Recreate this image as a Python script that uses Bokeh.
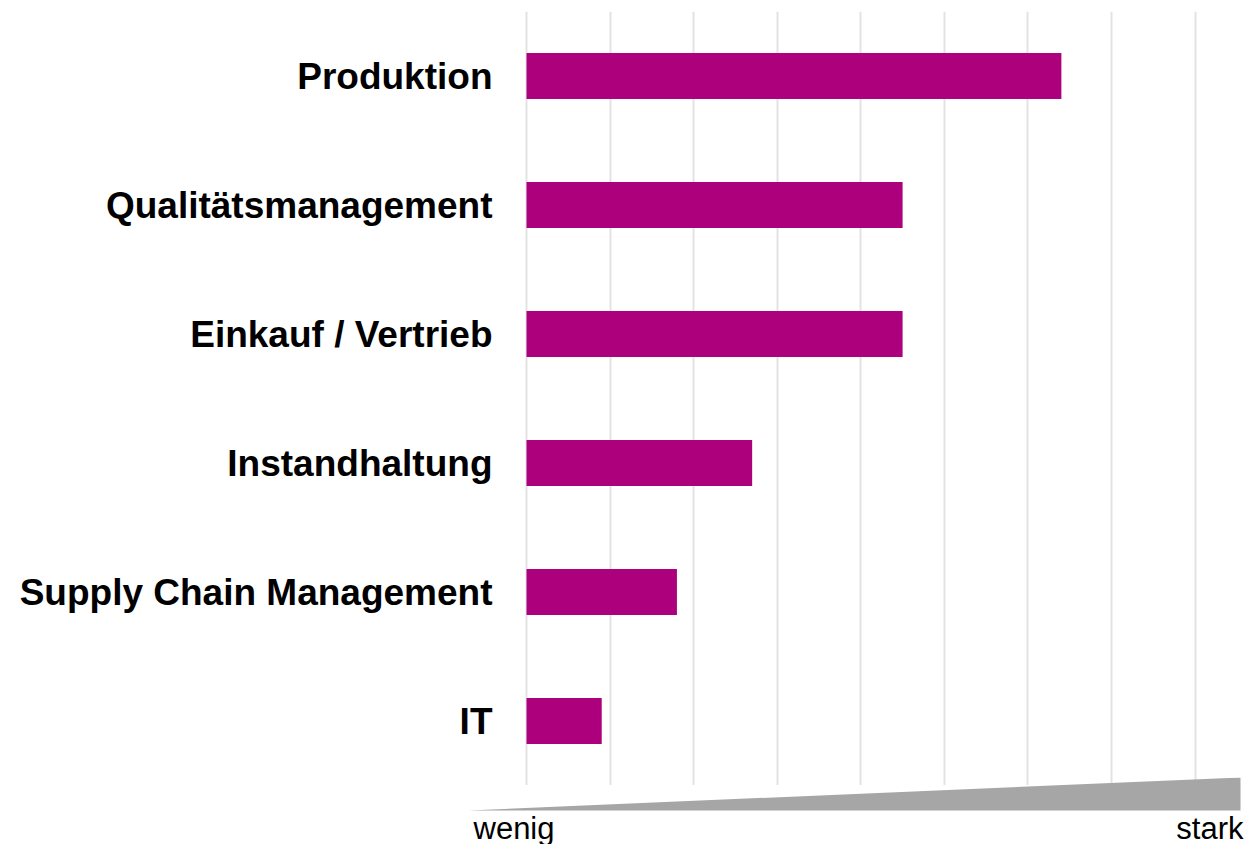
from bokeh.plotting import figure
from bokeh.layouts import column
from bokeh.models import FactorRange, Range1d, FixedTicker
from bokeh.core.properties import value
from bokeh.embed import file_html
from bokeh.resources import INLINE

# ---- data ----
categories = ["Produktion", "Qualitätsmanagement", "Einkauf / Vertrieb",
              "Instandhaltung", "Supply Chain Management", "IT"]
values = [6.4, 4.5, 4.5, 2.7, 1.8, 0.9]
scale_ticks = [0, 1, 2, 3, 4, 5, 6, 7, 8]
scale_labels = ["wenig", "stark"]

BAR = "#AD007C"
GRID = "#E3E3E3"
WEDGE = "#A6A6A6"

# ---- main bar chart ----
p = figure(
    width=1247, height=785,
    y_range=FactorRange(factors=list(reversed(categories))),
    x_range=Range1d(-0.694, 8.627),
    x_axis_location=None,
    output_backend="svg", toolbar_location=None,
    min_border_left=468, min_border_right=0,
    min_border_top=11, min_border_bottom=0,
)
p.outline_line_color = None
p.background_fill_color = "white"
p.border_fill_color = "white"

p.hbar(y=categories, right=values, left=0, height=0.355, color=BAR, line_color=None)

p.xgrid.ticker = FixedTicker(ticks=scale_ticks)
p.xgrid.grid_line_color = GRID
p.xgrid.grid_line_width = 2
p.ygrid.grid_line_color = None

ax = p.yaxis[0]
ax.axis_line_color = None
ax.major_tick_line_color = None
ax.minor_tick_line_color = None
ax.major_tick_out = 0
ax.major_tick_in = 0
ax.major_label_standoff = -24
ax.major_label_text_font = "Liberation Sans"
ax.major_label_text_font_style = "bold"
ax.major_label_text_font_size = "37px"
ax.major_label_text_color = "black"

# ---- scale strip below (wedge from "wenig" to "stark"), pixel-like coords ----
p2 = figure(
    width=1247, height=67,
    x_range=Range1d(468, 1247), y_range=Range1d(67, 0),
    x_axis_location=None, y_axis_location=None,
    output_backend="svg", toolbar_location=None,
    min_border_left=468, min_border_right=0, min_border_top=0, min_border_bottom=0,
)
p2.outline_line_color = None
p2.background_fill_alpha = 0
p2.border_fill_alpha = 0
p2.xgrid.visible = False
p2.ygrid.visible = False
p2.styles = {"margin-top": "-8px"}

p2.patch(x=[468, 1240, 1240], y=[33, 0, 33], color=WEDGE, line_color=None)
p2.text(x=[473], y=[51], text=[scale_labels[0]], text_align="left",
        text_baseline="alphabetic", text_font=value("Liberation Sans"),
        text_font_size="31px", text_color="black", text_line_height=1.0)
p2.text(x=[1243], y=[51], text=[scale_labels[1]], text_align="right",
        text_baseline="alphabetic", text_font=value("Liberation Sans"),
        text_font_size="31px", text_color="black", text_line_height=1.0)

layout = column(p, p2, spacing=0)
open("out.html", "w").write(file_html(layout, INLINE))
